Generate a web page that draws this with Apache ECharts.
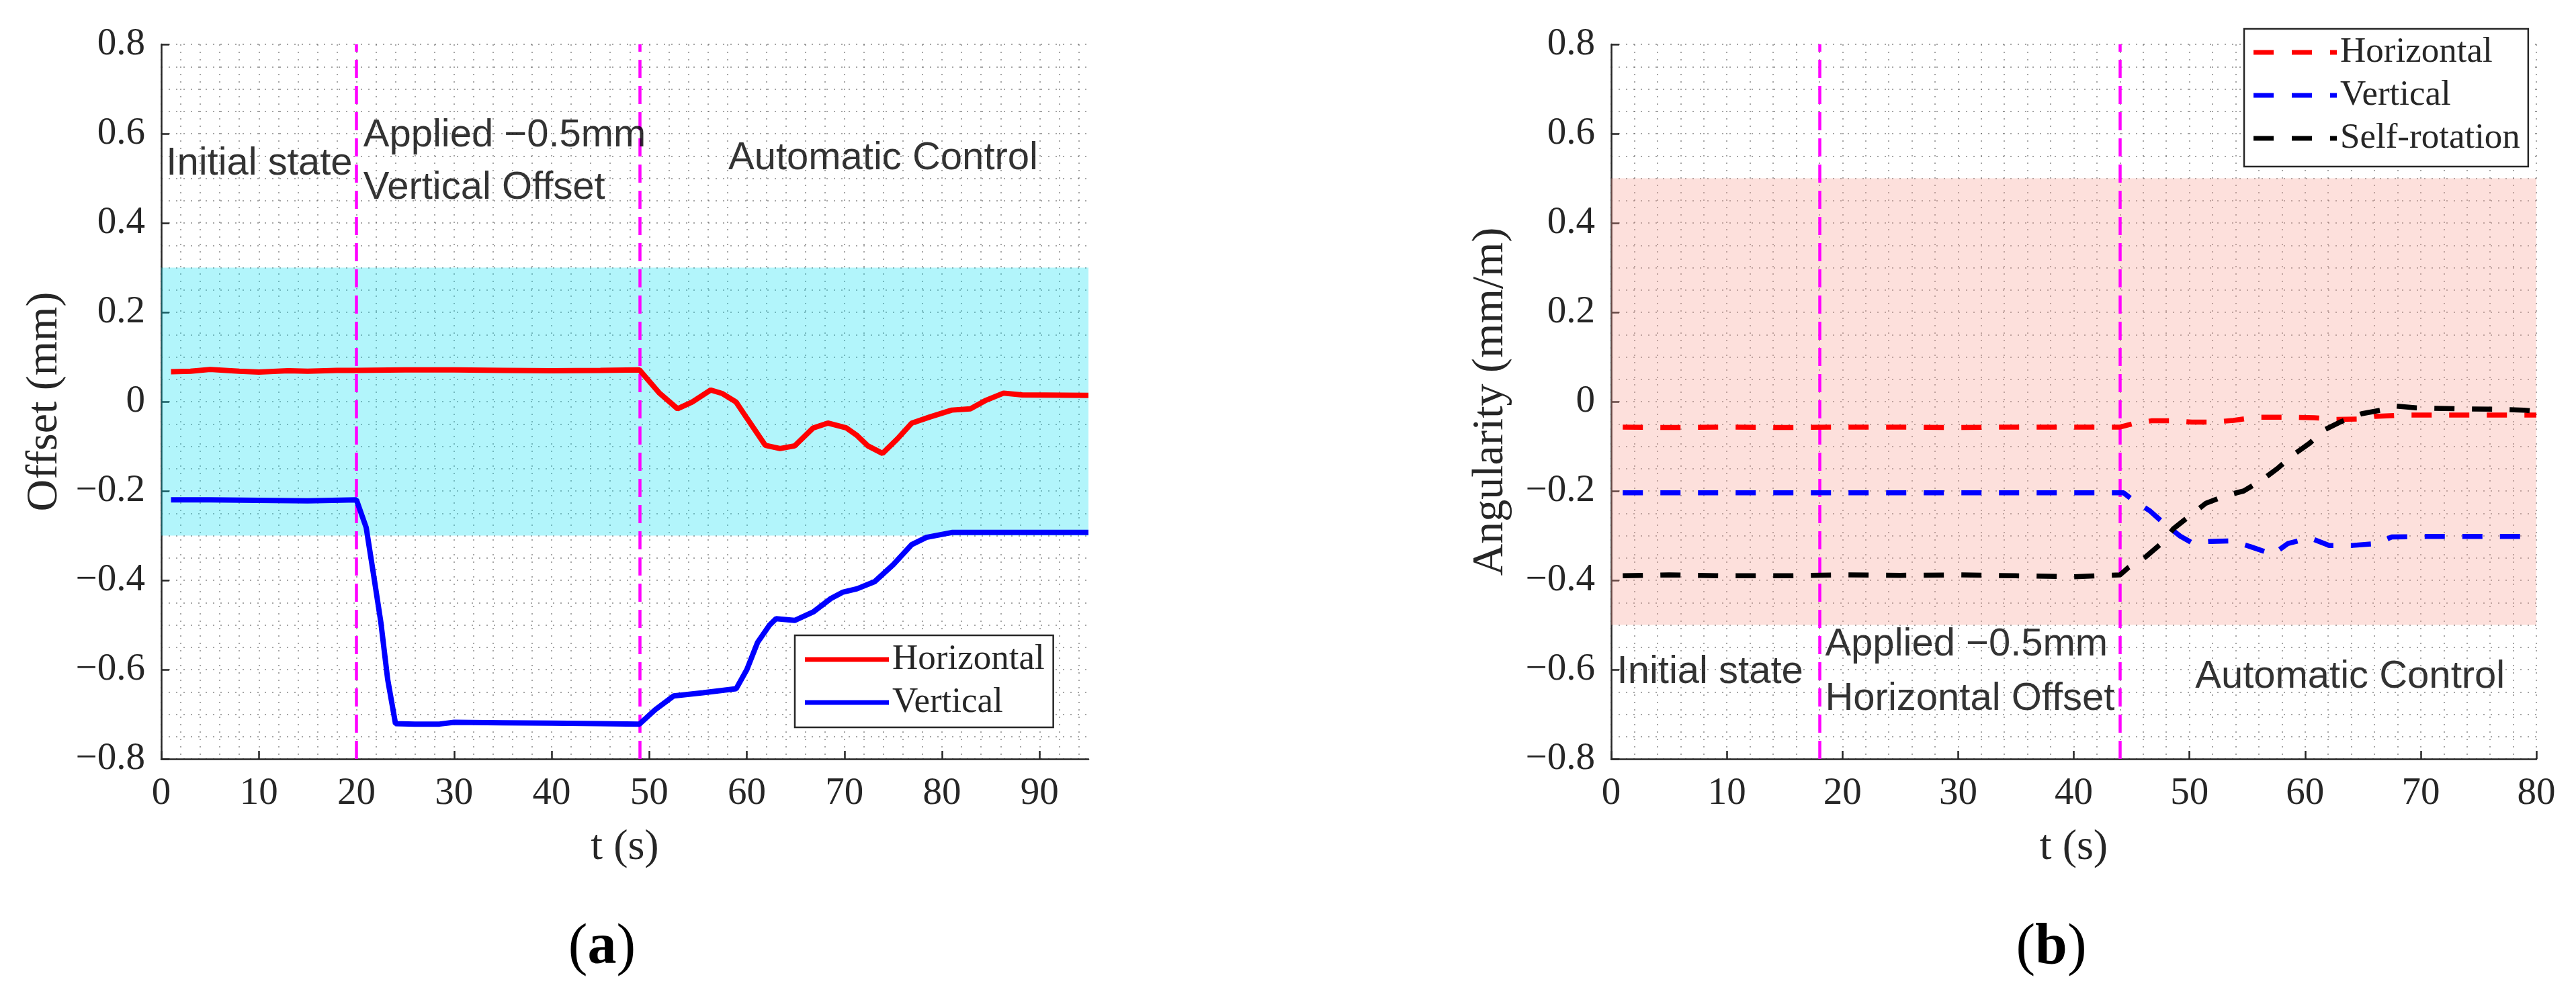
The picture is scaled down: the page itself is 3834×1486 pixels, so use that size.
<!DOCTYPE html>
<html>
<head>
<meta charset="utf-8">
<script src="https://cdn.jsdelivr.net/npm/echarts@6/dist/echarts.min.js"></script>
<style>html,body{margin:0;padding:0;background:#fff}#c{width:3834px;height:1486px}</style>
</head>
<body>
<div id="c"></div>
<script>
// ---------- data: panel (a) Offset ----------
const tA_h = [1, 3, 5, 8, 10, 13, 15, 18, 20, 25, 30, 35, 40, 45, 49, 51, 52.9, 54.4, 56.3, 57.5, 58.9, 60, 61.9, 63.4, 64.9, 66.8, 68.3, 70.2, 71.3, 72.4, 73.9, 75.4, 76.9, 78.8, 81, 82.9, 84.4, 86.3, 88.2, 95];
const vA_h = [0.067, 0.068, 0.072, 0.068, 0.066, 0.069, 0.068, 0.07, 0.07, 0.071, 0.071, 0.07, 0.069, 0.07, 0.071, 0.02, -0.016, -0.001, 0.026, 0.018, -0.001, -0.037, -0.098, -0.105, -0.099, -0.059, -0.048, -0.059, -0.076, -0.099, -0.116, -0.084, -0.048, -0.034, -0.019, -0.016, 0.002, 0.019, 0.015, 0.014];
const tA_v = [1, 5, 10, 15, 20, 21, 21.7, 22.5, 23.2, 24, 26, 28.5, 30, 35, 40, 45, 49, 50.6, 52.5, 55.5, 58.9, 60, 61.1, 62.3, 63, 64.9, 66.8, 68.6, 69.8, 71.3, 73.1, 75, 76.9, 78.4, 81, 95];
const vA_v = [-0.22, -0.22, -0.221, -0.222, -0.22, -0.282, -0.38, -0.494, -0.622, -0.721, -0.722, -0.722, -0.718, -0.719, -0.72, -0.721, -0.722, -0.69, -0.659, -0.652, -0.643, -0.6, -0.539, -0.501, -0.486, -0.49, -0.471, -0.441, -0.427, -0.419, -0.403, -0.365, -0.32, -0.304, -0.293, -0.293];
const bandA = [-0.3, 0.3];
const eventsA = [20, 49];
const xTicksA = [0, 10, 20, 30, 40, 50, 60, 70, 80, 90];
const notesA_text = ['Initial state', 'Applied \u22120.5mm', 'Vertical Offset', 'Automatic Control'];
const notesA_t = [0.5, 20.7, 20.7, 58.1];
const notesA_v = [0.532, 0.596, 0.478, 0.545];

// ---------- data: panel (b) Angularity ----------
const tB_h = [1, 5, 10, 15, 20, 25, 30, 35, 40, 44, 45.2, 46.7, 48.6, 50.2, 52, 53.8, 55.7, 57.3, 59.2, 60.8, 62.7, 64.5, 66, 68.6, 75, 80];
const vB_h = [-0.057, -0.058, -0.057, -0.058, -0.057, -0.057, -0.058, -0.057, -0.057, -0.057, -0.049, -0.043, -0.043, -0.046, -0.046, -0.042, -0.035, -0.035, -0.035, -0.036, -0.04, -0.039, -0.033, -0.03, -0.03, -0.03];
const tB_v = [1, 10, 20, 30, 40, 44.3, 45, 46.6, 47.9, 49.2, 50.2, 51.8, 53.7, 55.3, 57.2, 58.5, 60.4, 62.1, 64.1, 66.1, 67.5, 69.9, 80];
const vB_v = [-0.204, -0.204, -0.204, -0.204, -0.204, -0.204, -0.218, -0.245, -0.275, -0.301, -0.316, -0.313, -0.312, -0.325, -0.342, -0.318, -0.305, -0.322, -0.322, -0.318, -0.303, -0.302, -0.302];
const tB_s = [1, 5, 10, 15, 20, 25, 30, 35, 40, 44, 44.7, 46.2, 47.7, 48.6, 50.2, 51.4, 53.2, 54.7, 56.3, 57.6, 59.1, 60.4, 61.7, 63.1, 64.9, 66.6, 67.9, 69.6, 73.1, 76.3, 78.9, 80];
const vB_s = [-0.39, -0.388, -0.39, -0.39, -0.388, -0.389, -0.388, -0.39, -0.392, -0.388, -0.372, -0.348, -0.315, -0.285, -0.252, -0.228, -0.21, -0.2, -0.175, -0.15, -0.117, -0.093, -0.063, -0.045, -0.027, -0.019, -0.01, -0.014, -0.016, -0.017, -0.019, -0.022];
const bandB = [-0.5, 0.5];
const eventsB = [18, 44];
const xTicksB = [0, 10, 20, 30, 40, 50, 60, 70, 80];
const notesB_text = ['Initial state', 'Applied \u22120.5mm', 'Horizontal Offset', 'Automatic Control'];
const notesB_t = [0.5, 18.5, 18.5, 50.5];
const notesB_v = [-0.606, -0.544, -0.666, -0.617];

const yTicks = [-0.8, -0.6, -0.4, -0.2, 0, 0.2, 0.4, 0.6, 0.8];

// ---------- styling ----------
const serif = 'Liberation Serif';
const sans = 'Liberation Sans';
const ink = '#262626';
const gridDot = { type: [2, 9], color: 'rgba(105,105,105,0.6)', width: 2 };

const zip = (t, v) => t.map((x, i) => [x, v[i]]);
const fmtY = v => {
  const r = Math.round(v * 10) / 10;
  if (r === 0) return '0';
  return (r < 0 ? '\u2212' : '') + Math.abs(r).toFixed(1);
};

function xAxisCfg(gi, max, ticks) {
  return {
    type: 'value', gridIndex: gi, min: 0, max: max, interval: 10,
    name: 't (s)', nameLocation: 'middle', nameGap: 100,
    nameTextStyle: { fontFamily: serif, fontSize: 64, color: ink },
    axisLine: { show: true, onZero: false, lineStyle: { color: ink, width: 2.5 } },
    axisTick: { show: true, inside: true, length: 12, lineStyle: { color: ink, width: 2.5 }, customValues: ticks },
    axisLabel: { fontFamily: serif, fontSize: 57, color: ink, margin: 24, customValues: ticks,
      formatter: v => (ticks.indexOf(v) >= 0 ? String(v) : '') },
    splitLine: { show: true, lineStyle: gridDot },
    minorTick: { show: false, splitNumber: 5 },
    minorSplitLine: { show: true, lineStyle: gridDot }
  };
}
function yAxisCfg(gi, name, gap) {
  return {
    type: 'value', gridIndex: gi, min: yTicks[0], max: yTicks[yTicks.length - 1], interval: 0.2,
    name: name, nameLocation: 'middle', nameGap: gap,
    nameTextStyle: { fontFamily: serif, fontSize: 66, color: ink },
    axisLine: { show: true, onZero: false, lineStyle: { color: ink, width: 2.5 } },
    axisTick: { show: true, inside: true, length: 12, lineStyle: { color: ink, width: 2.5 } },
    axisLabel: { fontFamily: serif, fontSize: 57, color: ink, margin: 24, formatter: fmtY },
    splitLine: { show: true, lineStyle: gridDot },
    minorTick: { show: false, splitNumber: 4 },
    minorSplitLine: { show: true, lineStyle: gridDot }
  };
}
function helper(gi, band, bandColor, events) {
  return {
    type: 'line', xAxisIndex: gi, yAxisIndex: gi, data: [], z: 1, silent: true,
    markArea: { silent: true, z: 1, itemStyle: { color: bandColor },
      data: [[{ yAxis: band[0] }, { yAxis: band[1] }]] },
    markLine: { silent: true, z: 1, symbol: ['none', 'none'], animation: false,
      label: { show: false }, emphasis: { disabled: true },
      lineStyle: { color: '#ff00ff', width: 4.5, type: [27, 12] },
      data: events.map(t => ({ xAxis: t })) }
  };
}
function lineSeries(name, gi, t, v, color, dashed) {
  return {
    name: name, type: 'line', xAxisIndex: gi, yAxisIndex: gi, z: 3,
    data: zip(t, v), symbol: 'none', silent: true,
    lineStyle: { color: color, width: dashed ? 7.5 : 8, type: dashed ? [30, 26] : 'solid', cap: 'butt' },
    itemStyle: { color: color }
  };
}
function notes(gi, texts, ts, vs) {
  return {
    type: 'scatter', xAxisIndex: gi, yAxisIndex: gi, symbolSize: 0, z: 4, silent: true,
    label: { show: true, position: 'right', distance: 0, fontFamily: sans, fontSize: 58, color: '#000',
      formatter: p => p.name },
    data: texts.map((s, i) => ({ name: s, value: [ts[i], vs[i]] }))
  };
}

const dashIcon = 'path://M0,0h30v7h-30zM57,0h30v7h-30zM114,0h10v7h-10z';

const option = {
  animation: false,
  backgroundColor: '#fff',
  grid: [
    { left: 240, top: 66, width: 1380, height: 1064 },
    { left: 2398, top: 66, width: 1377, height: 1064 }
  ],
  xAxis: [xAxisCfg(0, 95, xTicksA), xAxisCfg(1, 80, xTicksB)],
  yAxis: [yAxisCfg(0, 'Offset (mm)', 140), yAxisCfg(1, 'Angularity (mm/m)', 146)],
  legend: [
    { left: 1183, top: 946, orient: 'vertical', itemWidth: 125, itemHeight: 7, itemGap: 4,
      padding: [6, 13, 7, 15], borderColor: ink, borderWidth: 2.5, backgroundColor: '#fff',
      selectedMode: false, itemStyle: { borderWidth: 0 },
      textStyle: { fontFamily: serif, fontSize: 53, lineHeight: 60, color: ink },
      data: [{ name: 'Horizontal', icon: 'rect' }, { name: 'Vertical', icon: 'rect' }] },
    { left: 3340, top: 43, orient: 'vertical', itemWidth: 124, itemHeight: 7, itemGap: 4,
      padding: [5, 12, 12, 14], borderColor: ink, borderWidth: 2.5, backgroundColor: '#fff',
      selectedMode: false, itemStyle: { borderWidth: 0 },
      textStyle: { fontFamily: serif, fontSize: 53, lineHeight: 60, color: ink },
      data: [{ name: 'Horizontal', icon: dashIcon }, { name: 'Vertical', icon: dashIcon },
             { name: 'Self-rotation', icon: dashIcon }] }
  ],
  graphic: [
    { type: 'text', x: 896, y: 1412, silent: true,
      style: { text: '({b|a})', fontFamily: serif, fontSize: 86, fill: '#000', align: 'center', verticalAlign: 'middle',
        rich: { b: { fontFamily: serif, fontSize: 86, fontWeight: 'bold', fill: '#000' } } } },
    { type: 'text', x: 3053, y: 1412, silent: true,
      style: { text: '({b|b})', fontFamily: serif, fontSize: 86, fill: '#000', align: 'center', verticalAlign: 'middle',
        rich: { b: { fontFamily: serif, fontSize: 86, fontWeight: 'bold', fill: '#000' } } } }
  ],
  series: [
    helper(0, bandA, 'rgba(0,221,241,0.3)', eventsA),
    lineSeries('Horizontal', 0, tA_h, vA_h, '#ff0000', false),
    lineSeries('Vertical', 0, tA_v, vA_v, '#0000ff', false),
    notes(0, notesA_text, notesA_t, notesA_v),
    helper(1, bandB, 'rgba(248,152,138,0.3)', eventsB),
    lineSeries('Horizontal', 1, tB_h, vB_h, '#ff0000', true),
    lineSeries('Vertical', 1, tB_v, vB_v, '#0000ff', true),
    lineSeries('Self-rotation', 1, tB_s, vB_s, '#000000', true),
    notes(1, notesB_text, notesB_t, notesB_v)
  ]
};

const chart = echarts.init(document.getElementById('c'), null, { renderer: 'canvas' });
chart.setOption(option);
</script>
</body>
</html>
